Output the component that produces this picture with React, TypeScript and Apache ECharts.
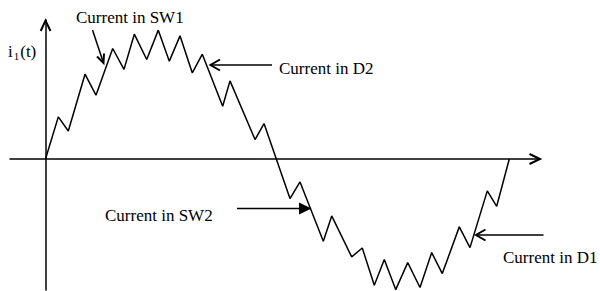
import React, { useEffect, useRef } from "react";
import * as echarts from "echarts";

// Waveform vertices of i1(t) (arbitrary time / current units)
const time = [0, 2.59, 4.61, 7.99, 10.21, 13.59, 15.87, 17.96, 20.47, 22.81, 25.04, 27.2, 29.69, 31.71, 35.83, 37.31, 42.37, 44.19, 49.44, 51.47, 56.18, 57.88, 61.92, 64.06, 66.49, 68.51, 70.82, 73.25, 75.73, 78.1, 80.24, 83.68, 85.84, 89.34, 91.24, 93.79];
const current = [0, 3.03, 2.02, 6.1, 4.59, 7.95, 6.45, 8.98, 7.16, 9.27, 7.04, 8.86, 6.19, 7.54, 3.8, 5.62, 1.4, 2.55, -2.84, -1.65, -5.91, -4.09, -7.04, -6.4, -9.08, -7.23, -9.39, -7.45, -9.24, -6.73, -8.24, -4.88, -6.37, -2.29, -3.4, 0];

const labels = ["Current in SW1", "Current in D2", "Current in SW2", "Current in D1"];
const yLabelMain = "i";
const yLabelSub = "1";
const yLabelTail = "(t)";

const FONT = '"Liberation Serif", "Times New Roman", serif';

export default function App() {
  const ref = useRef<HTMLDivElement>(null);
  useEffect(() => {
    if (!ref.current) return;
    const chart = echarts.init(ref.current, null, { renderer: "svg" });
    const black = "#000";
    const txt = (text: string, x: number, y: number, size = 17) => ({
      type: "text",
      x,
      y,
      style: { text, font: `${size}px ${FONT}`, fill: black, align: "left", verticalAlign: "middle" },
      z: 10,
    });
    const chev = (pts: number[][]) => ({
      type: "polyline",
      shape: { points: pts },
      style: { stroke: black, lineWidth: 2, fill: null },
      z: 10,
    });
    const ln = (x1: number, y1: number, x2: number, y2: number) => ({
      type: "line",
      shape: { x1, y1, x2, y2 },
      style: { stroke: black, lineWidth: 1.5 },
      z: 10,
    });
    chart.setOption({
      animation: false,
      backgroundColor: "#fff",
      grid: { left: 10, right: 60, top: 20, bottom: 1, containLabel: false },
      xAxis: {
        type: "value",
        min: -7.18,
        max: 100,
        axisLine: { show: true, onZero: true, lineStyle: { color: black, width: 1.5 } },
        axisTick: { show: false },
        axisLabel: { show: false },
        splitLine: { show: false },
      },
      yAxis: {
        type: "value",
        min: -9.42,
        max: 10,
        axisLine: { show: true, onZero: true, lineStyle: { color: black, width: 1.5 } },
        axisTick: { show: false },
        axisLabel: { show: false },
        splitLine: { show: false },
      },
      series: [
        {
          type: "line",
          data: time.map((t, i) => [t, current[i]]),
          symbol: "none",
          clip: false,
          lineStyle: { color: black, width: 1.5 },
        },
      ],
      graphic: [
        // axis arrowheads
        chev([[529.5, 154], [540, 159], [529.5, 164]]),
        chev([[40.7, 31], [45.5, 20.5], [50.5, 31]]),
        // y label i1(t)
        {
          type: "text",
          x: 8,
          y: 41,
          style: {
            text: `{a|${yLabelMain}}{s|${yLabelSub}}{a|${yLabelTail}}`,
            fill: black,
            align: "left",
            verticalAlign: "top",
            rich: {
              a: { fontFamily: FONT, fontSize: 17, lineHeight: 20, verticalAlign: "middle", fill: black },
              s: { fontFamily: FONT, fontSize: 11, lineHeight: 20, verticalAlign: "bottom", fill: black, padding: [0, 1, 0, 1] },
            },
          },
          z: 10,
        },
        // SW1
        txt(labels[0], 76, 17),
        ln(92.5, 30, 103.5, 63),
        chev([[97, 56.5], [103.5, 63], [104, 53.5]]),
        // D2
        txt(labels[1], 279, 68),
        ln(272, 65, 211, 65),
        chev([[220, 59.5], [210.5, 65], [220, 70.5]]),
        // SW2
        txt(labels[2], 105, 215.5),
        ln(237, 208.5, 300, 208.5),
        {
          type: "polygon",
          shape: { points: [[299, 202.5], [311.5, 208.5], [299, 214.5]] },
          style: { fill: black },
          z: 10,
        },
        // D1
        txt(labels[3], 503, 257),
        ln(543.5, 235, 476, 235),
        chev([[485.5, 229.5], [476, 235], [485.5, 240.5]]),
      ],
    });
    return () => chart.dispose();
  }, []);
  return <div ref={ref} style={{ position: "fixed", left: 0, top: 0, width: 600, height: 291 }} />;
}
